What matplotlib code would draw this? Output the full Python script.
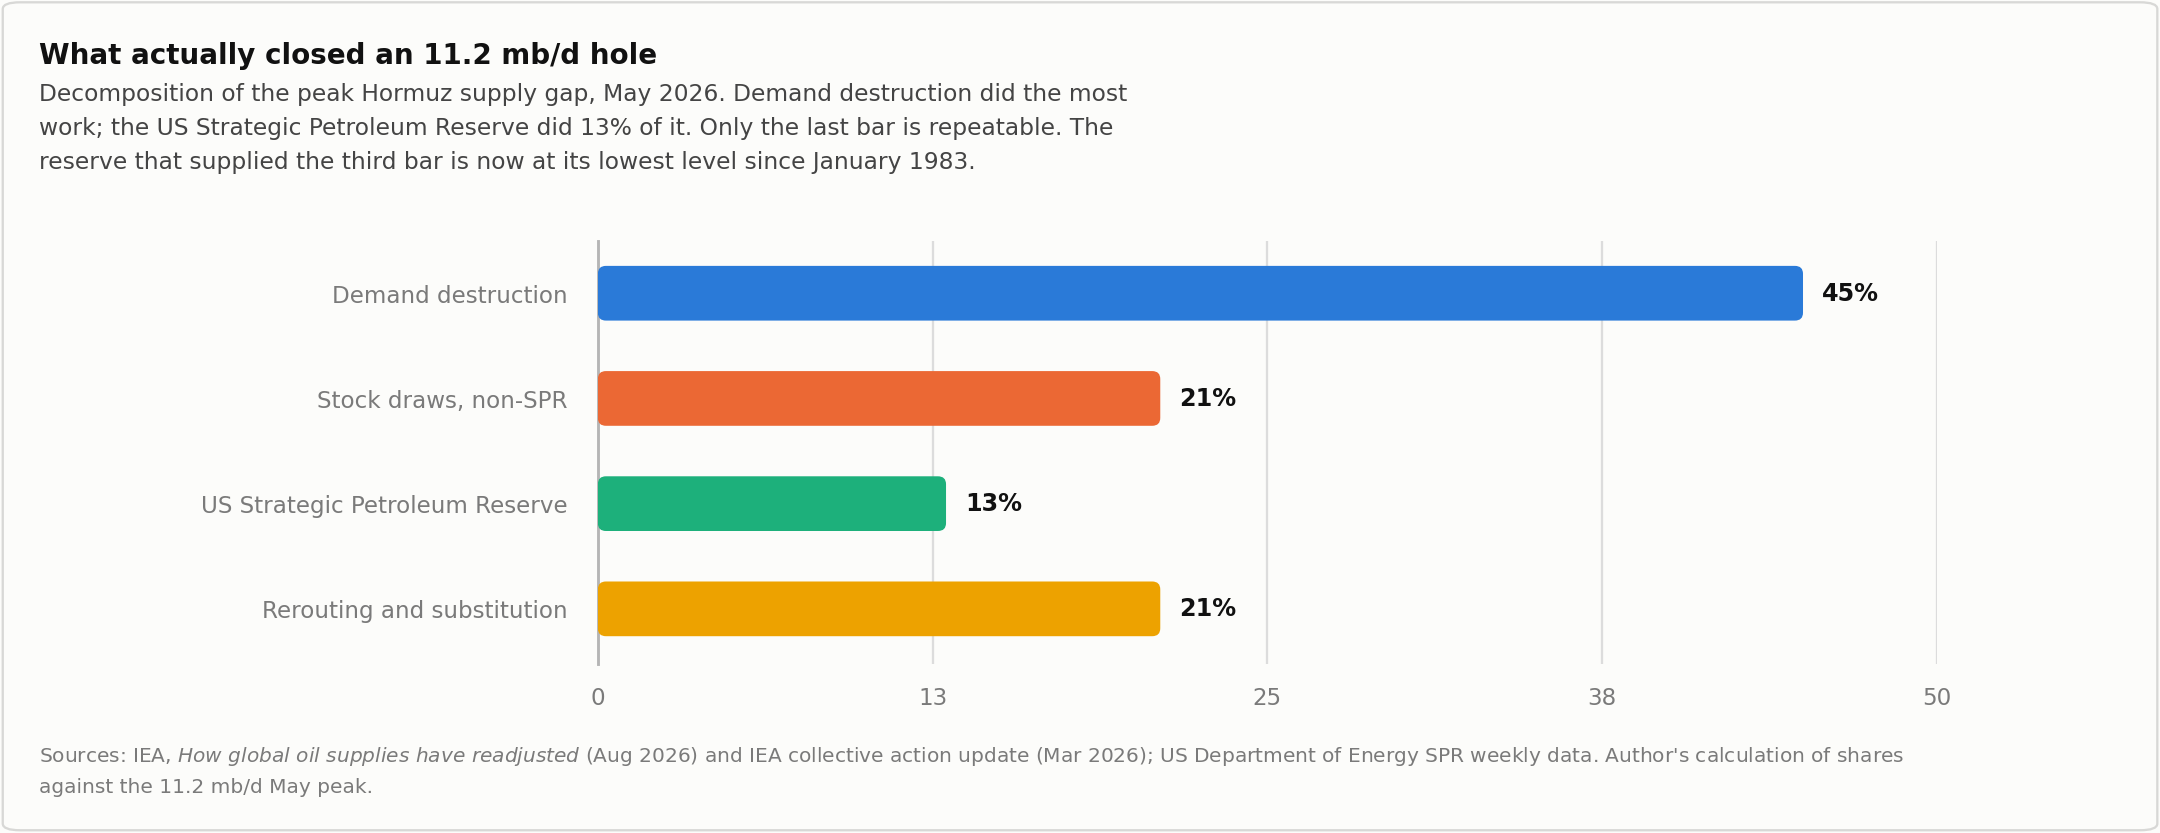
import matplotlib.pyplot as plt
from matplotlib.patches import FancyBboxPatch

categories = ["Demand destruction", "Stock draws, non-SPR",
              "US Strategic Petroleum Reserve", "Rerouting and substitution"]
shares = [45, 21, 13, 21]
colors = ["#2a7ad8", "#eb6834", "#1db07b", "#eda200"]
tick_vals = [0, 12.5, 25, 37.5, 50]
tick_labels = ["0", "13", "25", "38", "50"]

W, H = 1568, 605
fig = plt.figure(figsize=(W / 100, H / 100), dpi=137.76)
fig.patch.set_facecolor("#fcfcfa")
fig.patches.append(FancyBboxPatch((2 / W, 2 / H), 1 - 4 / W, 1 - 4 / H,
                                  boxstyle="round,pad=0,rounding_size=0.008",
                                  transform=fig.transFigure, fc="none",
                                  ec="#d8d8d6", lw=1.2))

fig.text(28 / W, 1 - 41 / H, "What actually closed an 11.2 mb/d hole",
         fontsize=14.5, fontweight="bold", color="#111", va="center")
sub = ("Decomposition of the peak Hormuz supply gap, May 2026. Demand destruction did the most\n"
       "work; the US Strategic Petroleum Reserve did 13% of it. Only the last bar is repeatable. The\n"
       "reserve that supplied the third bar is now at its lowest level since January 1983.")
fig.text(28 / W, 1 - 60 / H, sub, fontsize=12.2, color="#444", va="top",
         linespacing=1.62)

ax = fig.add_axes([434 / W, 1 - 482 / H, 972 / W, 307 / H])
ax.set_facecolor("none")
ax.set_xlim(0, 50)
ax.set_ylim(3.52, -0.5)
h = 0.52
for i, (v, c) in enumerate(zip(shares, colors)):
    ax.add_patch(FancyBboxPatch((0, i - h / 2), v, h,
                                boxstyle="round,pad=0,rounding_size=0.3",
                                mutation_aspect=0.25, fc=c, ec="none", zorder=3))
    ax.text(v + 0.7, i, f"{v}%", va="center", ha="left", fontsize=12.5,
            fontweight="bold", color="#111")
ax.set_yticks(range(len(categories)))
ax.set_yticklabels(categories, fontsize=12, color="#7a7a7a")
ax.set_xticks(tick_vals)
ax.set_xticklabels(tick_labels, fontsize=12, color="#7a7a7a")
ax.tick_params(length=0, pad=12)
ax.tick_params(axis="y", pad=16)
ax.grid(axis="x", color="#dcdcdc", lw=1.2, zorder=0)
for s in ["top", "right", "bottom"]:
    ax.spines[s].set_visible(False)
ax.spines["left"].set_color("#b5b5b5")
ax.spines["left"].set_linewidth(1.5)

fig.text(28 / W, 1 - 549 / H,
         "Sources: IEA, $\\it{How\\ global\\ oil\\ supplies\\ have\\ readjusted}$ (Aug 2026) and IEA collective action update (Mar 2026); US Department of Energy SPR weekly data. Author's calculation of shares",
         fontsize=10.5, color="#7a7a7a", va="center")
fig.text(28 / W, 1 - 572 / H, "against the 11.2 mb/d May peak.",
         fontsize=10.5, color="#7a7a7a", va="center")

fig.savefig("out.png", dpi=137.76, facecolor=fig.get_facecolor())
